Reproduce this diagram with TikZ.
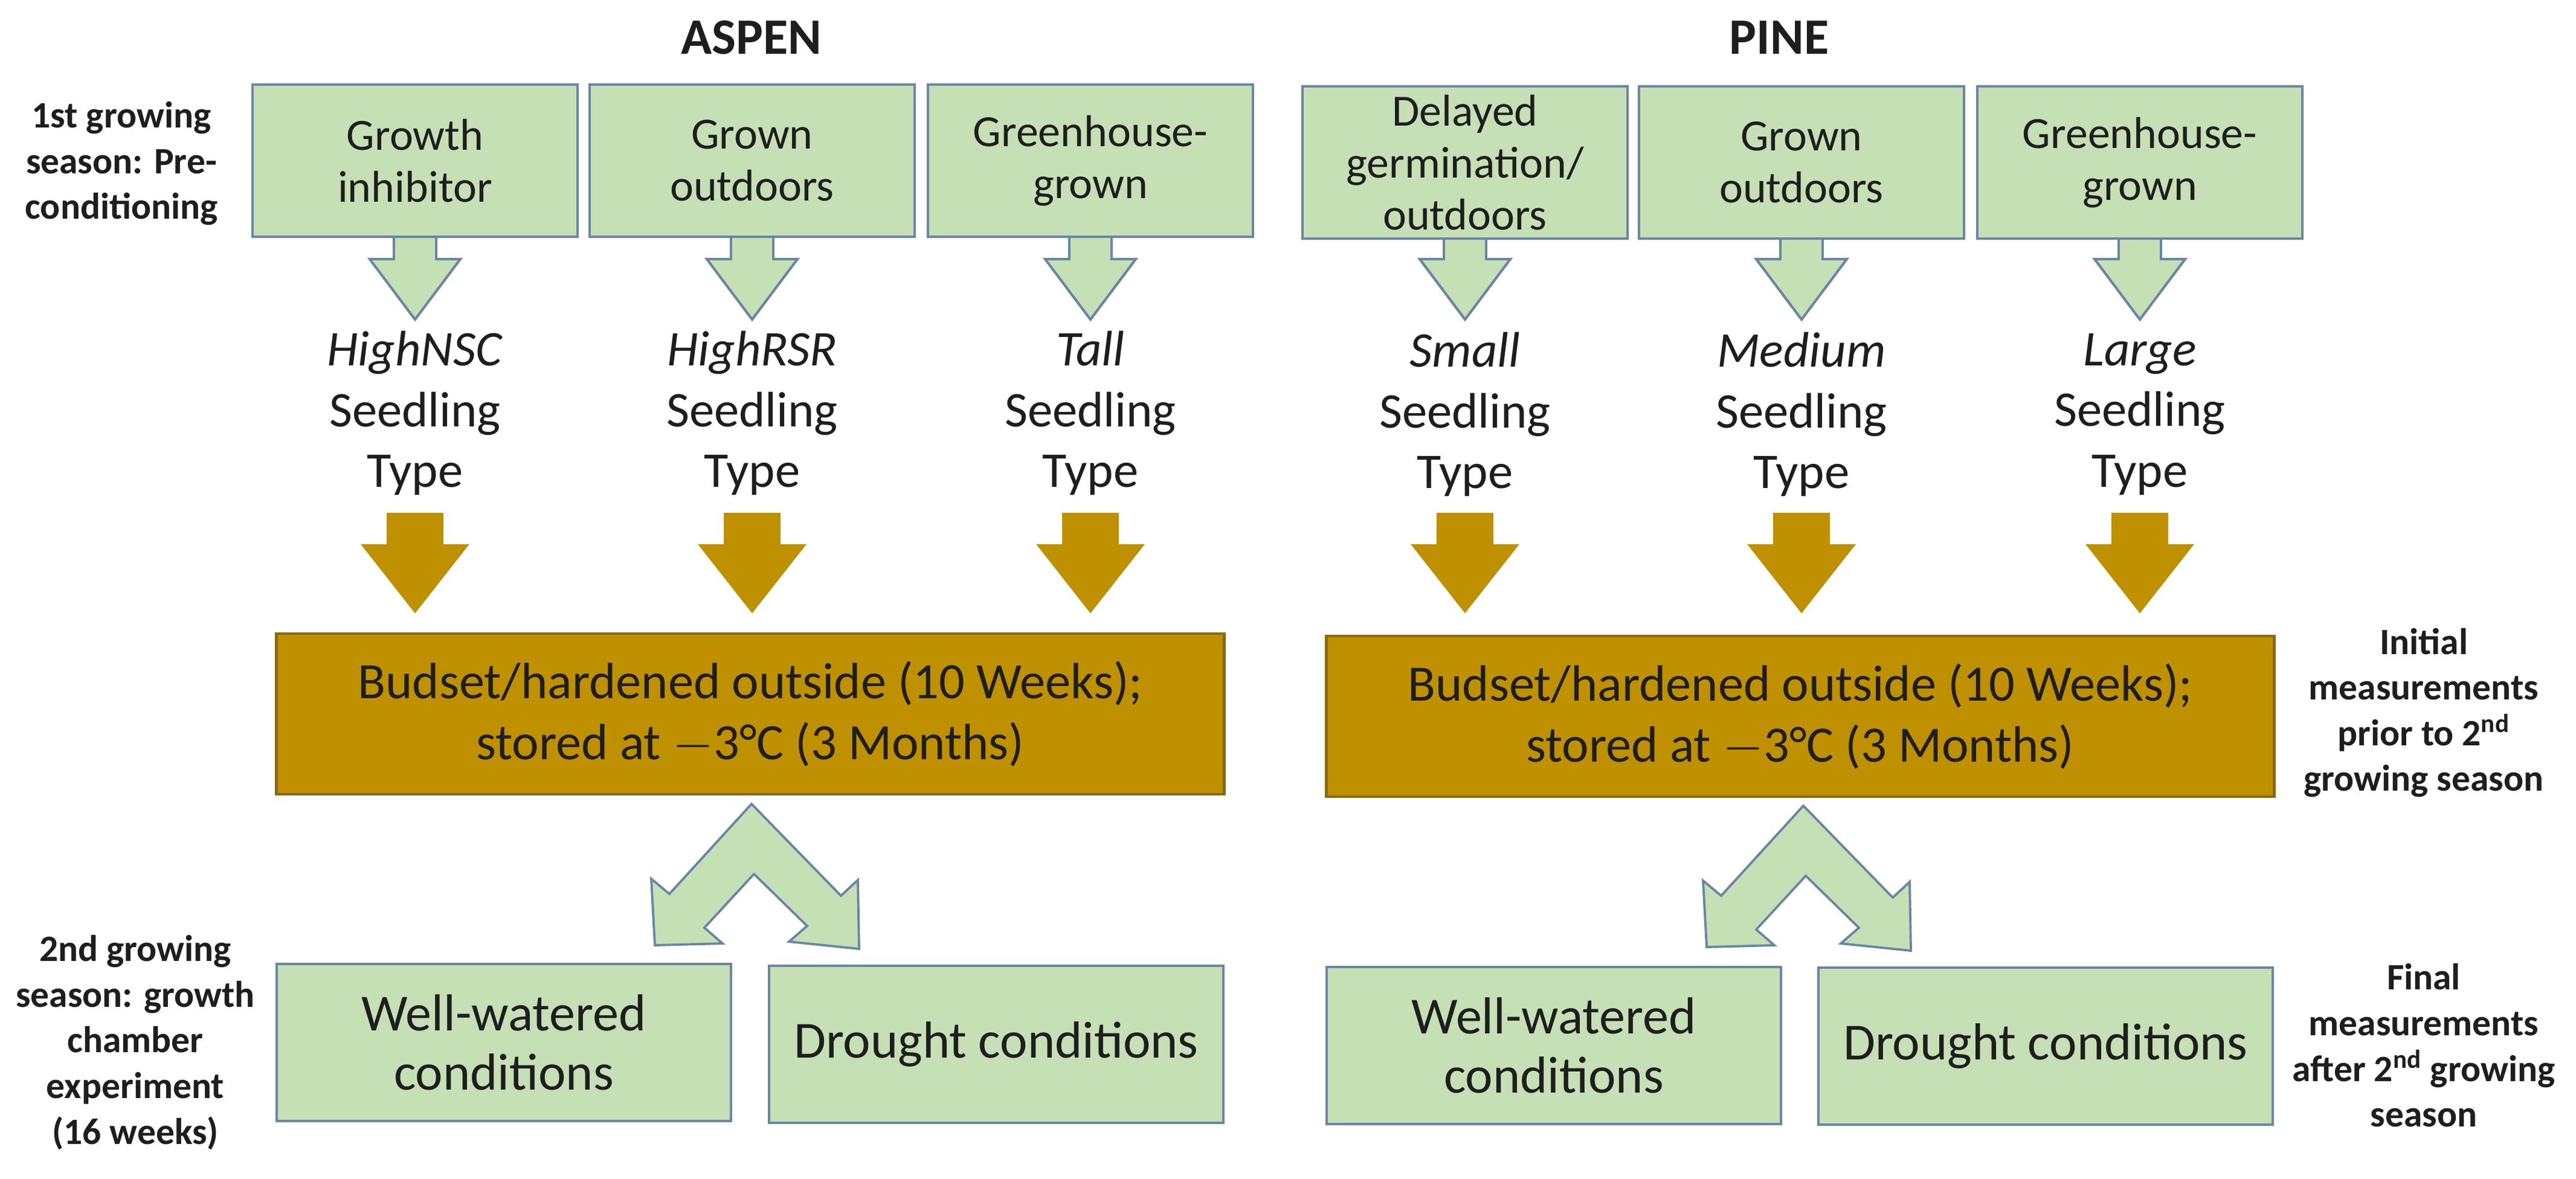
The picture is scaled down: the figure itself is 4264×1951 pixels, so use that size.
\documentclass[tikz,border=0pt]{standalone}
\usepackage{fontspec}
\setmainfont{Carlito}
\definecolor{gfill}{HTML}{C5E0B4}
\definecolor{gline}{HTML}{6A86A6}
\definecolor{ofill}{HTML}{BF9000}
\definecolor{oline}{HTML}{8A6A10}
\definecolor{txt}{HTML}{1E1E1E}
\newcommand\dnarrow[7]{%
  \fill[#1] (#2-#6,#3) -- (#2+#6,#3) -- (#2+#6,#4) -- (#2+#7,#4) -- (#2,#5) -- (#2-#7,#4) -- (#2-#6,#4) -- cycle;
  \draw[#1,fill=none] (#2+#6,#3) -- (#2+#6,#4) -- (#2+#7,#4) -- (#2,#5) -- (#2-#7,#4) -- (#2-#6,#4) -- (#2-#6,#3);}
\newcommand\splitarrow[2]{%
  \draw[garr,shift={(#1,#2)}] (0,0) -- (-136,149) -- (-166,124) -- (-160,234) -- (-48,231) -- (-78,205)
    -- (4,116) -- (92,202) -- (62,228) -- (178,240) -- (176,126) -- (148,152) -- cycle;}
\begin{document}
\begin{tikzpicture}[x=0.01cm,y=-0.01cm,
  gbox/.style={draw=gline,line width=1.2pt,fill=gfill,align=center,text=txt,inner sep=0pt},
  obox/.style={draw=oline,line width=1.2pt,fill=ofill,align=center,text=txt,inner sep=0pt,
    minimum width=15.68cm,minimum height=2.66cm,font=\fontsize{24}{28.5}\selectfont},
  top/.style={gbox,minimum width=5.38cm,minimum height=2.52cm,font=\fontsize{21}{24.5}\selectfont},
  bot/.style={gbox,minimum width=7.52cm,minimum height=2.6cm,font=\fontsize{24.5}{28}\selectfont},
  lbl/.style={align=center,text=txt,font=\fontsize{23.5}{28.5}\selectfont},
  side/.style={align=center,text=txt,font=\bfseries\fontsize{17.5}{21.5}\selectfont},
  title/.style={text=txt,font=\bfseries\fontsize{24}{28}\selectfont},
  garr/.style={draw=gline,line width=1.1pt,fill=gfill},
  oarr/.style={draw=ofill,line width=0.5pt,fill=ofill}]
\useasboundingbox (0,0) rectangle (4264,1951);
% titles
\node[title] (ta) at (1244,62) {ASPEN};
\node[title] (tp) at (2945,62) {PINE};
% side labels
\node[side] (s1) at (201,271) {1st growing\\season: Pre-\\conditioning};
\node[side] (s2) at (224,1726) {2nd growing\\season: growth\\chamber\\experiment\\(16 weeks)};
\node[side] (s3) at (4012,1180) {Initial\\measurements\\prior to 2\textsuperscript{nd}\\growing season};
\node[side] (s4) at (4012,1731) {Final\\measurements\\after 2\textsuperscript{nd} growing\\season};
% arrows top (green)
\foreach \c in {687,1245,1805,2425,2982,3542}{\dnarrow{garr}{\c}{390}{429}{529}{35}{75}}
% top boxes
\node[top] (a1) at (687,266) {Growth\\inhibitor};
\node[top] (a2) at (1245,266) {Grown\\outdoors};
\node[top] (a3) at (1805,266) {Greenhouse-\\grown};
\node[top] (p1) at (2425,269) {Delayed\\germination/\\outdoors};
\node[top] (p2) at (2982,269) {Grown\\outdoors};
\node[top] (p3) at (3542,269) {Greenhouse-\\grown};
% seedling types
\node[lbl] (l1) at (687,684) {\textit{HighNSC}\\Seedling\\Type};
\node[lbl] (l2) at (1245,684) {\textit{HighRSR}\\Seedling\\Type};
\node[lbl] (l3) at (1805,684) {\textit{Tall}\\Seedling\\Type};
\node[lbl] (l4) at (2425,686) {\textit{Small}\\Seedling\\Type};
\node[lbl] (l5) at (2982,686) {\textit{Medium}\\Seedling\\Type};
\node[lbl] (l6) at (3542,686) {\textit{Large}\\Seedling\\Type};
% gold arrows
\foreach \c in {687,1245,1805,2425,2982,3542}{%
  \fill[oarr] (\c-46,850) -- (\c+46,850) -- (\c+46,902) -- (\c+88,902) -- (\c,1014) -- (\c-88,902) -- (\c-46,902) -- cycle;}
% gold boxes
\node[obox] (ga) at (1242,1182) {Budset/hardened outside (10 Weeks);\\stored at $-$3°C (3 Months)};
\node[obox] (gp) at (2980,1186) {Budset/hardened outside (10 Weeks);\\stored at $-$3°C (3 Months)};
% split arrows
\splitarrow{1244}{1331}
\splitarrow{2985}{1334}
% bottom boxes
\node[bot] (wa) at (834,1726) {Well-watered\\conditions};
\node[bot] (da) at (1649,1729) {Drought conditions};
\node[bot] (wp) at (2572,1731) {Well-watered\\conditions};
\node[bot] (dp) at (3386,1732) {Drought conditions};
\end{tikzpicture}
\end{document}
